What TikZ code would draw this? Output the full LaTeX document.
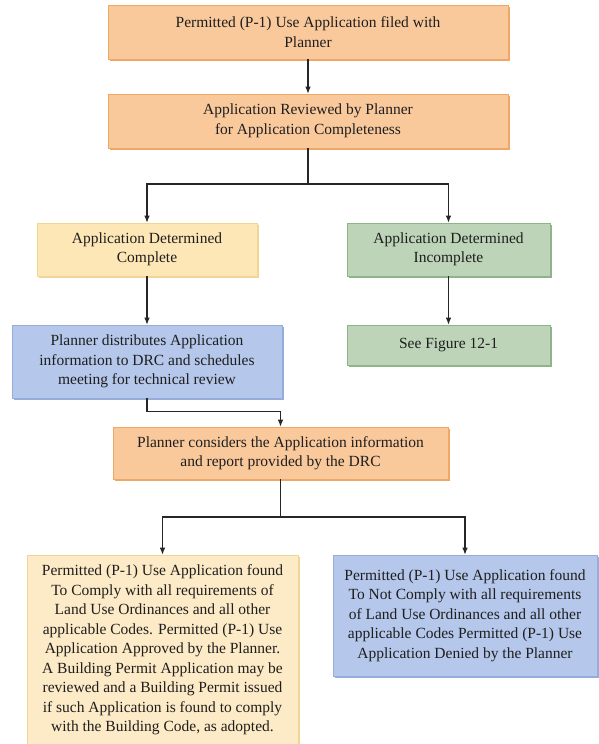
\documentclass[tikz,border=0pt]{standalone}
\usepackage{fontspec}
\setmainfont{Liberation Serif}
\usetikzlibrary{arrows.meta,shadows}
\definecolor{orfill}{HTML}{F9C99C}
\definecolor{ordark}{HTML}{EFA766}
\definecolor{yefill}{HTML}{FEE7B6}
\definecolor{yedark}{HTML}{F2D595}
\definecolor{grfill}{HTML}{BDD4B9}
\definecolor{grdark}{HTML}{8DB588}
\definecolor{blfill}{HTML}{B5C7EA}
\definecolor{bldark}{HTML}{96ADDC}
\definecolor{ye2fill}{HTML}{FDEAC6}
\definecolor{txt}{HTML}{1E1E1E}
\begin{document}
\begin{tikzpicture}[x=1pt,y=-1pt,
  box/.style={rectangle, align=center, inner sep=2pt, text=txt,
    font=\fontsize{15.5pt}{19.5pt}\selectfont, line width=0.6pt},
  orbox/.style={box, fill=orfill, draw=ordark,
    drop shadow={shadow xshift=1.6pt, shadow yshift=-1.6pt, fill=ordark, opacity=1}},
  yebox/.style={box, fill=yefill, draw=yedark,
    drop shadow={shadow xshift=1.6pt, shadow yshift=-1.6pt, fill=yedark, opacity=1}},
  grbox/.style={box, fill=grfill, draw=grdark,
    drop shadow={shadow xshift=1.6pt, shadow yshift=-1.6pt, fill=grdark, opacity=1}},
  blbox/.style={box, fill=blfill, draw=bldark,
    drop shadow={shadow xshift=1.6pt, shadow yshift=-1.6pt, fill=bldark, opacity=1}},
  ye2box/.style={box, fill=ye2fill, draw=yedark,
    drop shadow={shadow xshift=1.6pt, shadow yshift=-1.6pt, fill=yedark, opacity=1}},
  conn/.style={line width=1.1pt, draw=black!85, -{Latex[length=7pt,width=5.5pt]}},
  plain/.style={line width=1.1pt, draw=black!85}
]
\useasboundingbox[fill=white] (0,0) rectangle (598,744);

\node[orbox, minimum width=400pt, minimum height=54pt] (b1) at (308,32)
  {Permitted (P-1) Use Application filed with\\Planner};
\node[orbox, minimum width=400pt, minimum height=54pt] (b2) at (308,121)
  {Application Reviewed by Planner\\for Application Completeness};
\node[yebox, minimum width=220pt, minimum height=53pt] (b3) at (147,249.5)
  {Application Determined\\Complete};
\node[grbox, minimum width=203pt, minimum height=53pt] (bi) at (448.5,249.5)
  {Application Determined\\Incomplete};
\node[blbox, minimum width=270pt, minimum height=73pt] (b4) at (147,361.5)
  {Planner distributes Application\\information to DRC and schedules\\meeting for technical review};
\node[grbox, minimum width=203pt, minimum height=40pt] (bs) at (448.5,345)
  {See Figure 12-1};
\node[orbox, minimum width=335pt, minimum height=52pt] (b5) at (280.5,453)
  {Planner considers the Application information\\and report provided by the DRC};
\node[ye2box, minimum width=271pt, minimum height=190pt] (b6) at (162.5,650)
  {Permitted (P-1) Use Application found\\To Comply with all requirements of\\Land Use Ordinances and all other\\applicable Codes. Permitted (P-1) Use\\Application Approved by the Planner.\\A Building Permit Application may be\\reviewed and a Building Permit issued\\if such Application is found to comply\\with the Building Code, as adopted.};
\node[blbox, minimum width=264pt, minimum height=121pt] (b7) at (465,615.5)
  {Permitted (P-1) Use Application found\\To Not Comply with all requirements\\of Land Use Ordinances and all other\\applicable Codes Permitted (P-1) Use\\Application Denied by the Planner};

\coordinate (s1) at (308,184);
\coordinate (s2) at (280.5,517);

\draw[conn] (b1.south) -- (b2.north);
\draw[plain] (b2.south) -- (s1);
\draw[conn] (s1) -| (b3.north);
\draw[conn] (s1) -| (bi.north);
\draw[conn] (b3.south) -- (b4.north);
\draw[conn] (bi.south) -- (bs.north);
\draw[conn] (b4.south) -- ++(0,13) -| (b5.north);
\draw[plain] (b5.south) -- (s2);
\draw[conn] (s2) -| (b6.north);
\draw[conn] (s2) -| (b7.north);
\end{tikzpicture}
\end{document}
